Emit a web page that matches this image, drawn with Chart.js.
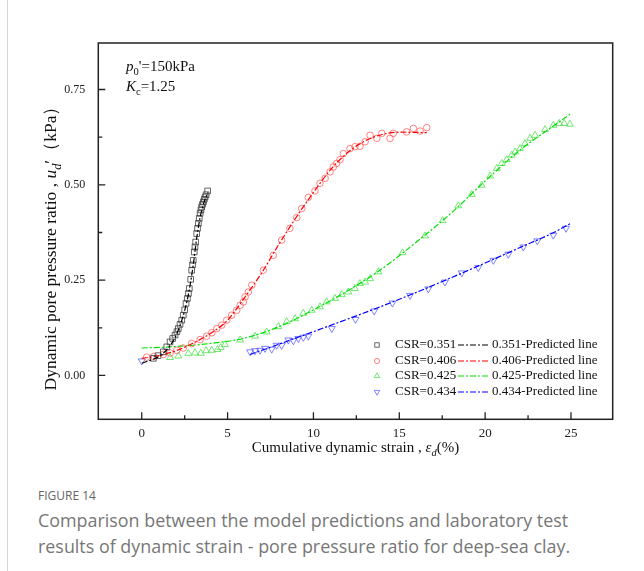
<!DOCTYPE html>
<html>
<head>
<meta charset="utf-8">
<script src="https://cdn.jsdelivr.net/npm/chart.js@4"></script>
<style>
  html, body { margin: 0; padding: 0; background: #fff; }
  body { width: 644px; height: 571px; position: relative; overflow: hidden; }
  #chart-box { position: absolute; left: 0; top: 0; width: 644px; height: 470px; }
  .side-line { position: absolute; left: 7px; top: 0; width: 1px; height: 571px; background: #d6d6d6; }
  #fig-label { position: absolute; left: 38px; top: 487px; font: 12px "Open Sans", sans-serif; color: #666; }
  #fig-caption { position: absolute; left: 38px; top: 507px; width: 600px; font: 17.9px "Open Sans", sans-serif; color: #777; line-height: 26px; white-space: nowrap; }
</style>
</head>
<body>
<div class="side-line"></div>
<div id="chart-box"><canvas id="strain-chart" width="644" height="470"></canvas></div>
<div id="fig-label">FIGURE 14</div>
<div id="fig-caption">Comparison between the model predictions and laboratory test<br>results of dynamic strain - pore pressure ratio for deep-sea clay.</div>
<script>
// 刻度
const xTicks = [0, 5, 10, 15, 20, 25];
const xMinorTicks = [2.5, 7.5, 12.5, 17.5, 22.5];
const yTicks = [0, 0.25, 0.5, 0.75];
const yMinorTicks = [0.125, 0.375, 0.625];

// CSR=0.351 試驗點 + 預測線
const x351 = [0.68, 0.95, 1.26, 1.46, 1.65, 1.80, 1.94, 2.05, 2.13, 2.23, 2.33, 2.42, 2.50, 2.58, 2.66, 2.72, 2.77, 2.85, 2.91, 2.96, 3.00, 3.06, 3.10, 3.14, 3.20, 3.25, 3.30, 3.35, 3.40, 3.45, 3.49, 3.54, 3.59, 3.64, 3.69, 3.75, 3.84];
const y351 = [0.045, 0.052, 0.062, 0.075, 0.088, 0.097, 0.106, 0.115, 0.123, 0.134, 0.145, 0.158, 0.172, 0.189, 0.202, 0.215, 0.228, 0.252, 0.276, 0.290, 0.302, 0.324, 0.337, 0.350, 0.372, 0.386, 0.399, 0.412, 0.425, 0.434, 0.442, 0.449, 0.455, 0.462, 0.468, 0.474, 0.484];
const x351Line = [0, 0.5, 1, 1.5, 2, 2.5, 2.75, 3, 3.2, 3.4, 3.6, 3.85];
const y351Line = [0.032, 0.04, 0.05, 0.07, 0.105, 0.17, 0.22, 0.29, 0.36, 0.415, 0.45, 0.48];

// CSR=0.406
const x406 = [0.29, 0.70, 1.26, 1.65, 2.04, 2.42, 2.91, 3.40, 3.78, 4.08, 4.37, 4.66, 4.95, 5.24, 5.53, 5.73, 5.92, 6.02, 6.21, 6.41, 7.08, 7.66, 8.15, 8.63, 9.03, 9.32, 9.70, 10.09, 10.38, 10.68, 10.97, 11.16, 11.35, 11.55, 11.74, 12.13, 12.42, 12.71, 13.01, 13.30, 13.69, 13.98, 14.46, 14.65, 15.43, 15.82, 16.21, 16.60];
const y406 = [0.048, 0.050, 0.055, 0.059, 0.066, 0.072, 0.084, 0.094, 0.103, 0.112, 0.123, 0.132, 0.145, 0.158, 0.171, 0.184, 0.193, 0.206, 0.219, 0.237, 0.276, 0.315, 0.355, 0.386, 0.414, 0.438, 0.467, 0.484, 0.504, 0.517, 0.534, 0.547, 0.556, 0.566, 0.582, 0.595, 0.600, 0.601, 0.613, 0.630, 0.622, 0.635, 0.622, 0.635, 0.639, 0.648, 0.641, 0.650];
const x406Line = [0, 1, 2, 3, 4, 5, 6, 7, 8, 9, 10, 11, 12, 13, 14, 15, 16.6];
const y406Line = [0.045, 0.052, 0.065, 0.085, 0.11, 0.145, 0.205, 0.27, 0.345, 0.415, 0.48, 0.54, 0.585, 0.615, 0.632, 0.638, 0.637];

// CSR=0.425
const x425 = [1.65, 2.13, 2.71, 3.10, 3.44, 3.75, 4.08, 4.41, 4.60, 4.85, 5.73, 6.60, 7.28, 7.96, 8.44, 8.93, 9.41, 9.90, 10.38, 10.77, 11.26, 11.65, 12.03, 12.42, 12.71, 13.01, 13.30, 13.78, 15.19, 16.50, 17.52, 18.44, 19.22, 19.80, 20.29, 20.68, 20.97, 21.26, 21.55, 21.74, 22.03, 22.32, 22.62, 22.91, 23.49, 23.97, 24.32, 24.61, 24.94];
const y425 = [0.047, 0.051, 0.058, 0.059, 0.058, 0.065, 0.066, 0.068, 0.073, 0.081, 0.093, 0.103, 0.114, 0.128, 0.141, 0.149, 0.163, 0.171, 0.180, 0.193, 0.202, 0.212, 0.219, 0.228, 0.241, 0.245, 0.254, 0.272, 0.322, 0.366, 0.406, 0.445, 0.475, 0.499, 0.523, 0.543, 0.556, 0.566, 0.578, 0.586, 0.595, 0.608, 0.622, 0.630, 0.645, 0.656, 0.661, 0.661, 0.659];
const x425Line = [0, 2, 4, 6, 8, 10, 12, 14, 16, 18, 20, 22, 24, 24.94];
const y425Line = [0.072, 0.076, 0.084, 0.098, 0.128, 0.172, 0.222, 0.28, 0.35, 0.425, 0.51, 0.59, 0.655, 0.685];

// CSR=0.434
const x434 = [0.00, 6.31, 6.60, 6.89, 7.18, 7.57, 7.86, 8.15, 8.54, 8.83, 9.12, 9.41, 9.70, 11.07, 12.45, 13.54, 14.60, 15.63, 16.69, 17.66, 18.64, 19.60, 20.48, 21.35, 22.22, 23.04, 23.97, 24.71];
const y434 = [0.038, 0.062, 0.065, 0.066, 0.071, 0.069, 0.079, 0.079, 0.093, 0.091, 0.097, 0.100, 0.103, 0.123, 0.147, 0.169, 0.190, 0.210, 0.227, 0.245, 0.269, 0.283, 0.302, 0.318, 0.337, 0.353, 0.368, 0.386];
const x434Line = [6.3, 8, 10, 12, 14, 16, 18, 20, 22, 24, 24.94];
const y434Line = [0.055, 0.082, 0.115, 0.148, 0.182, 0.218, 0.256, 0.295, 0.335, 0.375, 0.398];

const csrLabels = ["CSR=0.351", "CSR=0.406", "CSR=0.425", "CSR=0.434"];
const lineLabels = ["0.351-Predicted line", "0.406-Predicted line", "0.425-Predicted line", "0.434-Predicted line"];

const serif = '"Liberation Serif", "Times New Roman", serif';
const toPoints = (xs, ys) => xs.map((v, i) => ({ x: v, y: ys[i] }));

const series = [
  { pts: toPoints(x351, y351), line: toPoints(x351Line, y351Line), color: "#000000", mark: "#333333", style: "rect", rot: 0, r: 4 },
  { pts: toPoints(x406, y406), line: toPoints(x406Line, y406Line), color: "#ff0000", mark: "#ff5a5a", style: "circle", rot: 0, r: 3.3 },
  { pts: toPoints(x425, y425), line: toPoints(x425Line, y425Line), color: "#00e000", mark: "#44e044", style: "triangle", rot: 0, r: 4 },
  { pts: toPoints(x434, y434), line: toPoints(x434Line, y434Line), color: "#0000ff", mark: "#5a5aff", style: "triangle", rot: 180, r: 4 },
];

const datasets = [];
series.forEach((s, i) => {
  datasets.push({
    label: lineLabels[i],
    data: s.line,
    showLine: true,
    borderColor: s.color,
    borderWidth: 1.2,
    borderDash: [6, 2, 2, 2],
    cubicInterpolationMode: "monotone",
    pointRadius: 0,
  });
  datasets.push({
    label: csrLabels[i],
    data: s.pts,
    showLine: false,
    pointStyle: s.style,
    rotation: s.rot,
    pointRadius: s.r,
    pointBorderWidth: 0.75,
    pointBorderColor: s.mark,
    pointBackgroundColor: "rgba(0,0,0,0)",
  });
});

// 混合字體(斜體/下標)的文字
function drawRich(ctx, parts, x, y, size, align) {
  const fontOf = (p) => (p.it ? "italic " : "") + (p.sub ? size * 0.7 : size) + "px " + serif;
  let w = 0;
  parts.forEach((p) => { ctx.font = fontOf(p); w += ctx.measureText(p.t).width; });
  let cx = align === "center" ? x - w / 2 : x;
  ctx.textAlign = "left";
  ctx.textBaseline = "alphabetic";
  parts.forEach((p) => {
    ctx.font = fontOf(p);
    ctx.fillText(p.t, cx, y + (p.sub ? size * 0.28 : 0));
    cx += ctx.measureText(p.t).width;
  });
}

function drawMarker(ctx, style, rot, r, x, y) {
  ctx.beginPath();
  if (style === "rect") {
    const h = r * Math.SQRT1_2;
    ctx.rect(x - h, y - h, 2 * h, 2 * h);
  } else if (style === "circle") {
    ctx.arc(x, y, r, 0, Math.PI * 2);
  } else {
    let a = (rot * Math.PI) / 180;
    ctx.moveTo(x + Math.sin(a) * r, y - Math.cos(a) * r);
    for (let k = 0; k < 2; k++) {
      a += (2 * Math.PI) / 3;
      ctx.lineTo(x + Math.sin(a) * r, y - Math.cos(a) * r);
    }
    ctx.closePath();
  }
  ctx.stroke();
}

const frameAndText = {
  id: "frameAndText",
  afterDraw(chart) {
    const { ctx, chartArea: a, scales } = chart;
    const xs = scales.x, ys = scales.y;
    ctx.save();
    // 外框
    ctx.strokeStyle = "#222";
    ctx.lineWidth = 1.5;
    ctx.strokeRect(a.left, a.top, a.right - a.left, a.bottom - a.top);
    // 向內的刻度
    ctx.lineWidth = 1.3;
    ctx.beginPath();
    xTicks.forEach((v) => { const p = xs.getPixelForValue(v); ctx.moveTo(p, a.bottom); ctx.lineTo(p, a.bottom - 7); });
    xMinorTicks.forEach((v) => { const p = xs.getPixelForValue(v); ctx.moveTo(p, a.bottom); ctx.lineTo(p, a.bottom - 4); });
    yTicks.forEach((v) => { const p = ys.getPixelForValue(v); ctx.moveTo(a.left, p); ctx.lineTo(a.left + 7, p); });
    yMinorTicks.forEach((v) => { const p = ys.getPixelForValue(v); ctx.moveTo(a.left, p); ctx.lineTo(a.left + 4, p); });
    ctx.stroke();

    ctx.fillStyle = "#111";
    // 軸標題
    drawRich(ctx, [
      { t: "Cumulative dynamic strain , " },
      { t: "ε", it: true },
      { t: "d", it: true, sub: true },
      { t: "(%)" },
    ], (a.left + a.right) / 2, 452, 15, "center");

    ctx.save();
    ctx.translate(56, 244);
    ctx.rotate(-Math.PI / 2);
    drawRich(ctx, [
      { t: "Dynamic pore pressure ratio , " },
      { t: "u", it: true },
      { t: "d", it: true, sub: true },
      { t: "′（kPa）" },
    ], 0, 0, 17.5, "center");
    ctx.restore();

    // 試驗條件
    drawRich(ctx, [{ t: "p", it: true }, { t: "0", sub: true }, { t: "'=150kPa" }], 126, 71, 15, "left");
    drawRich(ctx, [{ t: "K", it: true }, { t: "c", sub: true }, { t: "=1.25" }], 126, 91, 15, "left");

    // 圖例
    const rowY = [345, 361, 376, 392];
    series.forEach((s, i) => {
      const yy = rowY[i];
      ctx.strokeStyle = s.mark;
      ctx.lineWidth = 0.75;
      ctx.setLineDash([]);
      drawMarker(ctx, s.style, s.rot, s.r * 0.8, 377, yy);
      ctx.fillStyle = "#111";
      ctx.font = "13px " + serif;
      ctx.textBaseline = "middle";
      ctx.textAlign = "left";
      ctx.fillText(csrLabels[i], 395, yy);
      ctx.strokeStyle = s.color;
      ctx.lineWidth = 1.2;
      ctx.setLineDash([6, 2, 2, 2]);
      ctx.beginPath();
      ctx.moveTo(458, yy);
      ctx.lineTo(489, yy);
      ctx.stroke();
      ctx.setLineDash([]);
      ctx.fillText(lineLabels[i], 492, yy);
    });
    ctx.restore();
  },
};

new Chart(document.getElementById("strain-chart"), {
  type: "scatter",
  data: { datasets },
  options: {
    responsive: false,
    animation: false,
    layout: { padding: { top: 43, right: 31.3, left: 0, bottom: 0 } },
    plugins: { legend: { display: false }, tooltip: { enabled: false } },
    scales: {
      x: {
        type: "linear",
        min: -2.53,
        max: 27.43,
        afterBuildTicks: (s) => { s.ticks = xTicks.map((v) => ({ value: v })); },
        afterFit: (s) => { s.height = 50.7; },
        grid: { display: false, drawTicks: false },
        border: { display: false },
        ticks: { padding: 6, color: "#222", font: { family: serif, size: 13 } },
      },
      y: {
        type: "linear",
        min: -0.115,
        max: 0.872,
        afterBuildTicks: (s) => { s.ticks = yTicks.map((v) => ({ value: v })); },
        afterFit: (s) => { s.width = 98.3; },
        grid: { display: false, drawTicks: false },
        border: { display: false },
        ticks: { padding: 13, color: "#222", font: { family: serif, size: 12 }, callback: (v) => v.toFixed(2) },
      },
    },
  },
  plugins: [frameAndText],
});
</script>
</body>
</html>
